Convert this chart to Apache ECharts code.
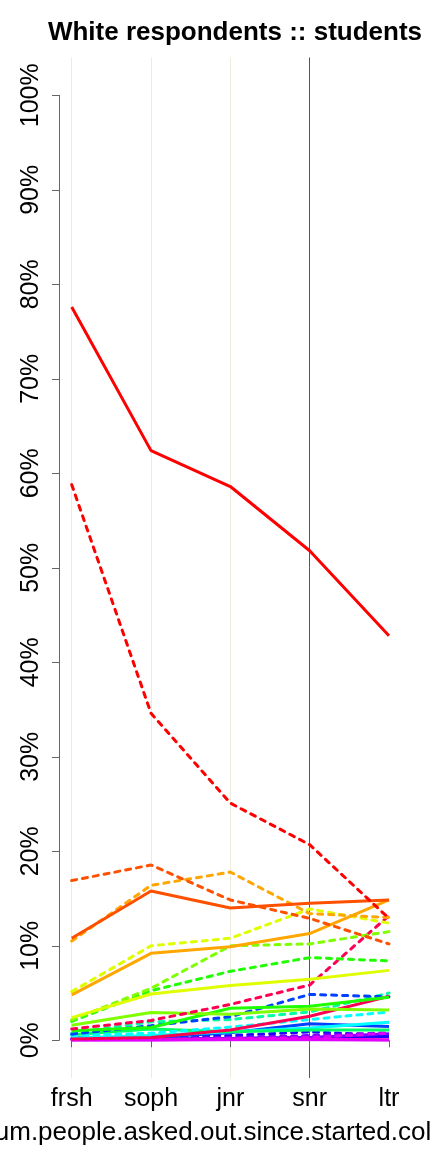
<!DOCTYPE html>
<html>
<head>
<meta charset="utf-8">
<script src="https://cdn.jsdelivr.net/npm/echarts@6/dist/echarts.min.js"></script>
<style>
html,body{margin:0;padding:0;background:#fff;}
#chart{width:432px;height:1152px;}
</style>
</head>
<body>
<div id="chart"></div>
<script>
// ---- data ----
const categories = ['frsh', 'soph', 'jnr', 'snr', 'ltr'];
const yTickValues = [0, 10, 20, 30, 40, 50, 60, 70, 80, 90, 100];
const yTickLabels = ['0%', '10%', '20%', '30%', '40%', '50%', '60%', '70%', '80%', '90%', '100%'];
const chartTitle = 'White respondents :: students';
const xTitle = 'num.people.asked.out.since.started.college';

// solid lines (percent)
const s_red         = [77.6, 62.4, 58.6, 51.8, 42.8];
const s_orangered   = [10.8, 15.8, 14.0, 14.5, 14.85];
const s_orange      = [4.8, 9.2, 9.9, 11.3, 14.85];
const s_yellow      = [2.4, 4.9, 5.8, 6.45, 7.4];
const s_lightgreen  = [1.6, 2.95, 2.75, 3.3, 3.2];
const s_green       = [1.0, 1.35, 3.4, 3.6, 4.55];
const s_springgreen = [0.6, 1.2, 0.9, 1.1, 1.1];
const s_cyan        = [0.25, 0.5, 0.9, 1.3, 1.9];
const s_blue        = [0.3, 0.3, 0.8, 1.75, 1.45];
const s_darkblue    = [0.1, 0.1, 0.2, 0.3, 0.4];
const s_purple      = [0.1, 0.1, 0.2, 0.3, 0.7];
const s_magenta     = [0.0, 0.0, 0.05, 0.05, 0.0];
const s_pink        = [0.05, 0.05, 0.1, 0.1, 0.05];
const s_crimson     = [0.15, 0.3, 1.1, 2.55, 4.65];

// dashed lines (percent)
const d_red         = [58.8, 34.6, 25.1, 20.7, 12.9];
const d_orangered   = [16.9, 18.55, 14.85, 12.9, 10.2];
const d_orange      = [10.5, 16.4, 17.8, 13.4, 13.0];
const d_yellow      = [5.15, 10.0, 10.8, 13.9, 12.4];
const d_lightgreen  = [2.15, 5.5, 10.0, 10.2, 11.5];
const d_green       = [2.0, 5.25, 7.3, 8.75, 8.4];
const d_springgreen = [0.75, 1.95, 2.2, 3.0, 5.0];
const d_cyan        = [0.5, 0.75, 1.4, 2.2, 3.0];
const d_blue        = [0.65, 1.55, 2.5, 4.85, 4.6];
const d_darkblue    = [0.2, 0.3, 0.5, 0.9, 0.5];
const d_purple      = [0.1, 0.2, 0.3, 0.5, 0.8];
const d_magenta     = [0.05, 0.1, 0.15, 0.3, 0.75];
const d_crimson     = [1.2, 2.1, 3.8, 5.85, 13.2];

// ---- styles ----
const colors = {
  red: '#FF0000', orangered: '#FF5000', orange: '#FFA600', yellow: '#DFFF00',
  lightgreen: '#80FF00', green: '#20FF00', springgreen: '#00FF60', mint: '#00FF9F',
  cyan: '#00FFFF', blue: '#0040FF', darkblue: '#2000FF', purple: '#8000FF',
  magenta: '#DF00FF', pink: '#FF00BF', crimson: '#FF0050'
};

const lines = [
  ['darkblue', s_darkblue, false], ['purple', s_purple, false],
  ['darkblue', d_darkblue, true], ['purple', d_purple, true],
  ['blue', s_blue, false], ['cyan', s_cyan, false],
  ['springgreen', s_springgreen, false], ['cyan', d_cyan, true], ['mint', d_springgreen, true],
  ['blue', d_blue, true], ['magenta', d_magenta, true], ['pink', s_pink, false], ['magenta', s_magenta, false],
  ['crimson', s_crimson, false], ['green', s_green, false],
  ['lightgreen', s_lightgreen, false], ['crimson', d_crimson, true], ['green', d_green, true],
  ['lightgreen', d_lightgreen, true], ['yellow', s_yellow, false], ['yellow', d_yellow, true],
  ['orange', s_orange, false], ['orange', d_orange, true], ['orangered', d_orangered, true],
  ['orangered', s_orangered, false], ['red', d_red, true], ['red', s_red, false]
];

const FONT = '"Liberation Sans", Arial, Helvetica, sans-serif';

const series = lines.map(([c, vals, dashed], i) => ({
  type: 'line',
  name: c + (dashed ? '_dashed' : '_solid'),
  xAxisIndex: 0, yAxisIndex: 0,
  data: vals,
  symbol: 'none',
  smooth: false,
  animation: false,
  lineStyle: { color: colors[c], width: 3, type: dashed ? [5, 6] : 'solid', cap: dashed ? 'round' : 'butt' },
  z: 2 + i * 0.01
}));

const chart = echarts.init(document.getElementById('chart'), null, { renderer: 'canvas' });
chart.setOption({
  animation: false,
  backgroundColor: '#fff',
  textStyle: { fontFamily: FONT },
  title: {
    text: chartTitle, left: 230, top: 15, textAlign: 'center',
    textStyle: { fontFamily: FONT, fontSize: 26, fontWeight: 'bold', color: '#000' }
  },
  grid: [
    { left: 71.7, right: 43, top: 95.3, bottom: 111.7, containLabel: false, outerBoundsMode: 'none' },
    { left: 71.7, right: 43, top: 57.5, bottom: 74, containLabel: false, outerBoundsMode: 'none' }
  ],
  xAxis: [
    {
      type: 'category', gridIndex: 0, data: categories, boundaryGap: false,
      offset: 37.7,
      axisLine: { show: true, lineStyle: { color: '#666', width: 1 } },
      axisTick: { show: true, length: 7, interval: 0, lineStyle: { color: '#666' } },
      axisLabel: { show: true, interval: 0, fontSize: 25, color: '#000', margin: 9, fontFamily: FONT },
      splitLine: { show: false },
      name: xTitle, nameLocation: 'middle', nameGap: 42,
      nameTextStyle: { fontSize: 26, color: '#000', fontFamily: FONT }
    },
    {
      type: 'category', gridIndex: 1, data: categories, boundaryGap: false,
      axisLine: { show: false }, axisTick: { show: false }, axisLabel: { show: false },
      splitLine: { show: true, interval: 0,
        lineStyle: { color: ['#EEEBDC', '#EEEBDC', '#EEEBDC', '#555555', 'rgba(0,0,0,0)'], width: 1 } }
    }
  ],
  yAxis: [
    {
      type: 'value', gridIndex: 0, min: 0, max: 100, interval: 10,
      offset: 12.7,
      axisLine: { show: true, lineStyle: { color: '#666', width: 1 } },
      axisTick: { show: true, length: 7, lineStyle: { color: '#666' } },
      axisLabel: {
        rotate: 90, fontSize: 25, color: '#000', margin: 15, fontFamily: FONT,
        formatter: v => yTickLabels[yTickValues.indexOf(Math.round(v))] || ''
      },
      splitLine: { show: false }
    },
    {
      type: 'value', gridIndex: 1, min: 0, max: 100, show: false, splitLine: { show: false }
    }
  ],
  series: series
});
</script>
</body>
</html>
